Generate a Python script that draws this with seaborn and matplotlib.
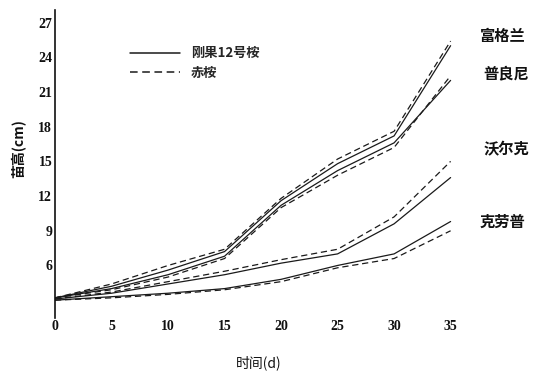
import pandas as pd
import matplotlib
matplotlib.use("Agg")
import matplotlib.pyplot as plt
from matplotlib.lines import Line2D
import seaborn as sns

sns.set_theme(style="white")
plt.rcParams['font.family'] = ['Noto Sans CJK SC', 'DejaVu Sans']

# 数据：天数与苗高(cm)
dias = [0, 5, 10, 15, 20, 25, 30, 35]
fugelan_gg = [3.2, 4.2, 5.6, 7.2, 11.6, 14.8, 17.2, 25.0]
fugelan_ca = [3.2, 4.4, 6.0, 7.4, 11.8, 15.2, 17.6, 25.4]
puliangni_gg = [3.2, 4.0, 5.2, 6.8, 11.2, 14.2, 16.6, 22.0]
puliangni_ca = [3.2, 3.9, 5.0, 6.6, 11.0, 13.8, 16.2, 22.4]
woerke_gg = [3.1, 3.6, 4.4, 5.2, 6.2, 7.0, 9.6, 13.6]
woerke_ca = [3.1, 3.7, 4.6, 5.5, 6.5, 7.4, 10.2, 15.0]
kelaopu_gg = [3.0, 3.3, 3.6, 4.0, 4.8, 6.0, 7.0, 9.8]
kelaopu_ca = [3.0, 3.2, 3.5, 3.9, 4.6, 5.8, 6.6, 9.0]

cultivares = ['富格兰', '普良尼', '沃尔克', '克劳普']
portaenxertos = ['刚果12号桉', '赤桉']
series = {
    ('富格兰', '刚果12号桉'): fugelan_gg,
    ('富格兰', '赤桉'): fugelan_ca,
    ('普良尼', '刚果12号桉'): puliangni_gg,
    ('普良尼', '赤桉'): puliangni_ca,
    ('沃尔克', '刚果12号桉'): woerke_gg,
    ('沃尔克', '赤桉'): woerke_ca,
    ('克劳普', '刚果12号桉'): kelaopu_gg,
    ('克劳普', '赤桉'): kelaopu_ca,
}

linhas = []
for (cv, pe), vals in series.items():
    for d, v in zip(dias, vals):
        linhas.append([cv, pe, d, v])
df = pd.DataFrame(linhas, columns=['cultivar', 'portaenxerto', 'dia', 'altura'])

fig = plt.figure(figsize=(5.34, 3.78), dpi=100)
ax = fig.add_axes([0.103, 0.160, 0.762, 0.814])

sns.lineplot(
    data=df, x='dia', y='altura',
    hue='cultivar', style='portaenxerto',
    units='cultivar', estimator=None,
    palette={c: '#1a1a1a' for c in cultivares},
    dashes={'刚果12号桉': '', '赤桉': (5, 3)},
    linewidth=0.9, legend=False, ax=ax
)

ax.set_xlim(0, 36)
ax.set_ylim(1.5, 28.1)
ax.set_yticks([6, 9, 12, 15, 18, 21, 24, 27])
ax.set_xticks([0, 5, 10, 15, 20, 25, 30, 35])
fonte_num = {'family': 'Liberation Serif', 'weight': 'bold', 'size': 10}
ax.set_yticklabels([str(t) for t in ax.get_yticks().astype(int)], fontdict=fonte_num)
ax.set_xticklabels([str(t) for t in ax.get_xticks().astype(int)], fontdict=fonte_num)
ax.tick_params(axis='y', direction='in', length=4, width=0.8, colors='#111', pad=2)
ax.tick_params(axis='x', direction='in', length=3, width=0.8, colors='#111', pad=2)

for s in ['top', 'right', 'bottom']:
    ax.spines[s].set_visible(False)
ax.spines['left'].set_color('#111')
ax.spines['left'].set_linewidth(1.2)

ax.set_xlabel('时间(d)', fontsize=10, color='#111', labelpad=16)
ax.set_ylabel('苗高(cm)', fontsize=10, fontweight='bold', color='#111', labelpad=6)
ax.yaxis.set_label_coords(-0.07, 0.55)

# 品种标注
rotulos_x = [37.6, 37.9, 37.9, 37.6]
rotulos_y = [25.8, 22.6, 16.0, 9.8]
for nome, tx, ty in zip(cultivares, rotulos_x, rotulos_y):
    ax.text(tx, ty, nome, fontsize=11, fontweight='bold', color='#111',
            va='center', ha='left', clip_on=False)

handles = [Line2D([], [], color='#1a1a1a', lw=1.1, linestyle='-'),
           Line2D([], [], color='#1a1a1a', lw=1.1, linestyle=(0, (5, 3)))]
ax.legend(handles, portaenxertos, loc='upper left', bbox_to_anchor=(0.155, 0.92),
          frameon=False, handlelength=3.8, labelspacing=0.4,
          prop={'weight': 'bold', 'size': 9.5})

plt.savefig('out.png', dpi=100)
